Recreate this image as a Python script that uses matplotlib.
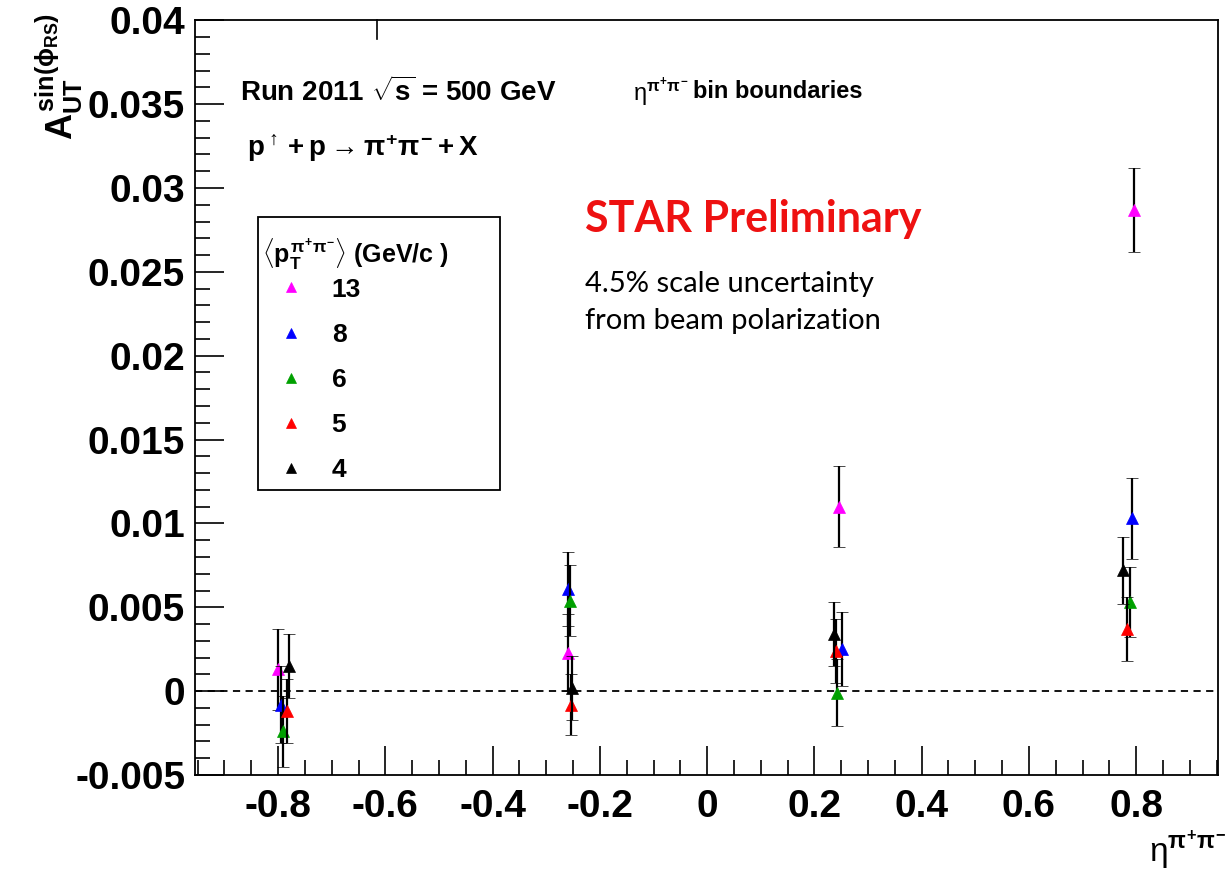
import numpy as np
import matplotlib
matplotlib.use('Agg')
import matplotlib.pyplot as plt
from matplotlib.ticker import MultipleLocator
from matplotlib.patches import Rectangle

plt.rcParams['font.family'] = ['Liberation Sans', 'DejaVu Sans']
plt.rcParams['font.weight'] = 'bold'
plt.rcParams['mathtext.fontset'] = 'custom'
plt.rcParams['mathtext.rm'] = 'Liberation Sans:bold'
plt.rcParams['mathtext.it'] = 'Liberation Sans:bold'
plt.rcParams['mathtext.bf'] = 'Liberation Sans:bold'

# <pT> bins (GeV/c), plotting order and colours
pt_labels = ['13', '8', '6', '5', '4']
colors = ['#ff00ff', '#0000ff', '#00a000', '#ff0000', '#000000']

# mean eta of the pair in each of the 4 eta bins, per pT bin
eta_13 = [-0.800, -0.260, 0.245, 0.796]
eta_8 = [-0.794, -0.260, 0.252, 0.792]
eta_6 = [-0.790, -0.256, 0.243, 0.789]
eta_5 = [-0.783, -0.254, 0.241, 0.783]
eta_4 = [-0.779, -0.252, 0.237, 0.776]

a_13 = [0.0013, 0.0023, 0.0110, 0.0287]
a_8 = [-0.0008, 0.0061, 0.0025, 0.0103]
a_6 = [-0.0024, 0.0054, -0.0001, 0.0053]
a_5 = [-0.0012, -0.0008, 0.0024, 0.0037]
a_4 = [0.0015, 0.0002, 0.0034, 0.0072]

err_13 = [0.0024, 0.0023, 0.0024, 0.0025]
err_8 = [0.0023, 0.0022, 0.0022, 0.0024]
err_6 = [0.0021, 0.0021, 0.0020, 0.0021]
err_5 = [0.0019, 0.0018, 0.0019, 0.0019]
err_4 = [0.0019, 0.0019, 0.0019, 0.0020]

eta_all = [eta_13, eta_8, eta_6, eta_5, eta_4]
a_all = [a_13, a_8, a_6, a_5, a_4]
err_all = [err_13, err_8, err_6, err_5, err_4]

bin_edge_marks = [-0.615]

fig = plt.figure(figsize=(12.3, 8.81), dpi=100)
ax = fig.add_axes([0.1585, 0.1203, 0.8315, 0.8567])

handles = []
for i in range(len(pt_labels)):
	c = ax.errorbar(eta_all[i], a_all[i], yerr=err_all[i], fmt='^', color=colors[i],
		markersize=8, mec=colors[i], mew=0.5, ecolor='black', elinewidth=1.6,
		capsize=4.5, capthick=1.6, zorder=3 + i)
	handles.append(c[0])

ax.axhline(0, color='black', lw=1.3, ls=(0, (4, 3)), zorder=1)

ax.set_xlim(-0.955, 0.952)
ax.set_ylim(-0.005, 0.04)

ax.xaxis.set_major_locator(MultipleLocator(0.2))
ax.xaxis.set_minor_locator(MultipleLocator(0.05))
ax.yaxis.set_major_locator(MultipleLocator(0.005))
ax.yaxis.set_minor_locator(MultipleLocator(0.001))
ax.set_xticks([-0.8, -0.6, -0.4, -0.2, 0, 0.2, 0.4, 0.6, 0.8])
ax.set_xticklabels(['-0.8', '-0.6', '-0.4', '-0.2', '0', '0.2', '0.4', '0.6', '0.8'])
ax.set_yticks([-0.005, 0, 0.005, 0.01, 0.015, 0.02, 0.025, 0.03, 0.035, 0.04])
ax.set_yticklabels(['-0.005', '0', '0.005', '0.01', '0.015', '0.02', '0.025', '0.03', '0.035', '0.04'])
ax.tick_params(which='major', direction='in', length=21, width=1.2, labelsize=28, pad=7)
ax.tick_params(which='minor', direction='in', length=11, width=1.2)
ax.tick_params(axis='x', pad=10)
for lab in ax.get_xticklabels() + ax.get_yticklabels():
	lab.set_fontweight('bold')
for s in ax.spines.values():
	s.set_linewidth(1.3)

for xb in bin_edge_marks:
	ax.plot([xb, xb], [0.04, 0.0389], color='black', lw=1.2, clip_on=False)

ax.text(0.044, 0.905, r'Run 2011 $\sqrt{s}$ = 500 GeV', transform=ax.transAxes,
	fontsize=20, fontweight='bold', va='center')
ax.text(0.051, 0.83, r'$p^{\uparrow}+p\rightarrow\pi^{+}\pi^{-}+X$', transform=ax.transAxes,
	fontsize=20, va='center')
ax.text(0.428, 0.905, r'$\mathregular{\eta}^{\pi^{+}\pi^{-}}$', transform=ax.transAxes,
	fontsize=17, fontweight='normal', va='center')
ax.text(0.487, 0.906, 'bin boundaries', transform=ax.transAxes,
	fontsize=17, fontweight='bold', va='center')

ax.text(0.381, 0.737, 'STAR Preliminary', transform=ax.transAxes, color='#ee1111',
	fontsize=31, fontweight='bold', family=['Lato', 'DejaVu Sans'], va='center')
ax.text(0.381, 0.626, '4.5% scale uncertainty\nfrom beam polarization', transform=ax.transAxes,
	fontsize=21, fontweight='normal', family=['Lato', 'DejaVu Sans'], va='center',
	linespacing=1.55)

# legend box
ax.add_patch(Rectangle((0.0616, 0.3775), 0.2366, 0.3616, transform=ax.transAxes,
	fill=False, edgecolor='black', lw=1.3, zorder=2))
ax.text(0.066, 0.690, r'$\langle p_{T}^{\pi^{+}\pi^{-}}\rangle$ (GeV/c )', transform=ax.transAxes,
	fontsize=18, va='center')
leg = ax.legend(handles, pt_labels, loc='upper left',
	bbox_to_anchor=(0.073, 0.659), frameon=False, fontsize=19,
	borderpad=0, labelspacing=0.8, handlelength=1.6, handletextpad=0.75,
	borderaxespad=0, markerscale=0.9)
for t in leg.get_texts():
	t.set_fontweight('bold')

fig.text(0.048, 0.985, r'$A_{UT}^{\sin(\phi_{RS})}$', rotation=90, fontsize=26,
	ha='center', va='top')
fig.text(0.997, 0.035, r'$\mathregular{\eta}^{\pi^{+}\pi^{-}}$', fontsize=24,
	fontweight='normal', ha='right', va='center')

plt.savefig('out.png', dpi=100)
